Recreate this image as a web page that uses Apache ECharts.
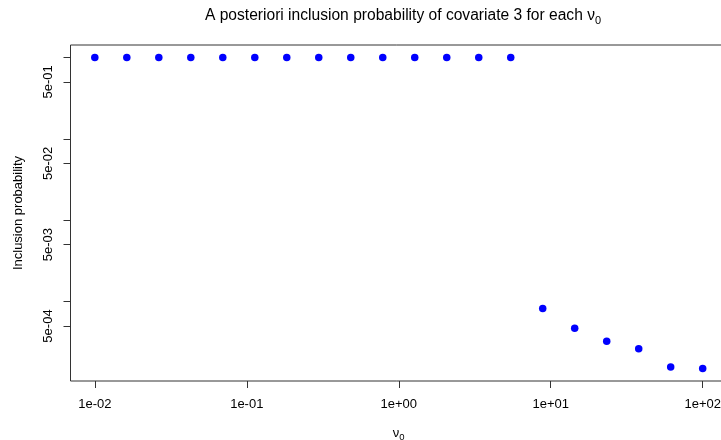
<!DOCTYPE html>
<html>
<head>
<meta charset="utf-8">
<script src="https://cdn.jsdelivr.net/npm/echarts@6/dist/echarts.min.js"></script>
<style>
  html, body { margin: 0; padding: 0; background: #fff; }
  #chart { width: 721px; height: 440px; }
</style>
</head>
<body>
<div id="chart"></div>
<script>
  // nu_0 grid (log spaced from 1e-02 to 1e+02)
  var nuValues = [0.01, 0.01624, 0.02637, 0.04281, 0.06952, 0.1129, 0.1833, 0.2976, 0.4833, 0.7848,
                  1.274, 2.069, 3.360, 5.456, 8.859, 14.38, 23.36, 37.93, 61.58, 100];
  // posterior inclusion probability of covariate 3
  var inclProb = [1, 1, 1, 1, 1, 1, 1, 1, 1, 1,
                  1, 1, 1, 1, 0.000818, 0.000470, 0.000325, 0.000263, 0.000157, 0.000150];

  var xTicks = [0.01, 0.1, 1, 10, 100];
  var yTicks = [1, 0.5, 0.1, 0.05, 0.01, 0.005, 0.001, 0.0005];
  var yLabels = [0.5, 0.05, 0.005, 0.0005];

  var font = 'Liberation Sans, Arial, sans-serif';

  // R style exponent label: 5e-01, 1e+02
  function sci(v) {
    var e = Math.floor(Math.log10(v) + 1e-9);
    var m = Math.round(v / Math.pow(10, e));
    var s = e < 0 ? '-' : '+';
    var a = Math.abs(e);
    return m + 'e' + s + (a < 10 ? '0' + a : a);
  }

  // R pads log axes by 4% of the data range
  function logRange(arr) {
    var lo = Math.log10(Math.min.apply(null, arr));
    var hi = Math.log10(Math.max.apply(null, arr));
    var pad = (hi - lo) * 0.04;
    return [Math.pow(10, lo - pad), Math.pow(10, hi + pad)];
  }
  var xr = logRange(nuValues);
  var yr = logRange(inclProb);

  var points = nuValues.map(function (x, i) { return [x, inclProb[i]]; });

  var myChart = echarts.init(document.getElementById('chart'));
  myChart.setOption({
    animation: false,
    textStyle: { fontFamily: font },
    title: {
      text: '{a|A posteriori inclusion probability of covariate 3 for each ν}{s|0}',
      left: 398,
      top: 1,
      textAlign: 'center',
      textStyle: {
        rich: {
          a: { fontFamily: font, fontSize: 15.6, fontWeight: 'normal', color: '#000' },
          s: { fontFamily: font, fontSize: 11, fontWeight: 'normal', color: '#000', padding: [9, 0, 0, 0] }
        }
      }
    },
    grid: {
      left: 70.5,
      right: -6,
      top: 45,
      bottom: 59,
      outerBoundsMode: 'none',
      containLabel: false,
      show: true,
      borderColor: '#333',
      borderWidth: 1,
      backgroundColor: 'transparent'
    },
    xAxis: {
      type: 'log',
      logBase: 10,
      min: xr[0],
      max: xr[1],
      name: '{a|ν}{s|0}',
      nameLocation: 'middle',
      nameGap: 44,
      nameTextStyle: {
        rich: {
          a: { fontFamily: font, fontSize: 13, color: '#000' },
          s: { fontFamily: font, fontSize: 9.5, color: '#000', padding: [7, 0, 0, 0] }
        }
      },
      axisLine: { show: false },
      splitLine: { show: false },
      axisTick: { show: true, length: 7, customValues: xTicks, lineStyle: { color: '#333' } },
      minorTick: { show: false },
      axisLabel: {
        customValues: xTicks,
        margin: 16.5,
        fontSize: 13,
        color: '#000',
        formatter: function (v) { return sci(v); }
      }
    },
    yAxis: {
      type: 'log',
      logBase: 10,
      min: yr[0],
      max: yr[1],
      name: 'Inclusion probability',
      nameLocation: 'middle',
      nameRotate: 90,
      nameGap: 46,
      nameTextStyle: { fontSize: 13, color: '#000' },
      axisLine: { show: false },
      splitLine: { show: false },
      axisTick: { show: true, length: 7, customValues: yTicks, lineStyle: { color: '#333' } },
      axisLabel: {
        customValues: yLabels,
        rotate: 90,
        margin: 15.5,
        fontSize: 13,
        color: '#000',
        formatter: function (v) { return sci(v); }
      }
    },
    series: [{
      type: 'scatter',
      data: points,
      symbol: 'circle',
      symbolSize: 7.5,
      itemStyle: { color: '#0000ff', opacity: 1 }
    }]
  });

  window.addEventListener('resize', function () {
    myChart.resize();
  });
</script>
</body>
</html>
